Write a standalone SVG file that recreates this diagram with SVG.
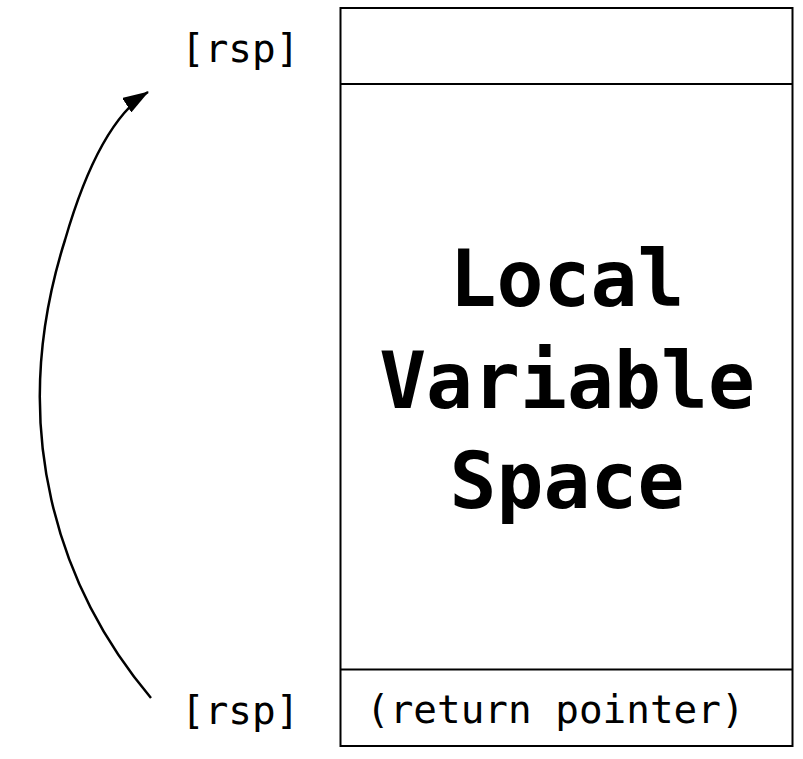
<svg xmlns="http://www.w3.org/2000/svg" width="803" height="759" viewBox="0 0 803 759">
<style>
.lbl{font-family:"DejaVu Sans Mono","Liberation Mono",monospace;font-size:39.3px;fill:#000}
.big{font-family:"DejaVu Sans Mono","Liberation Mono",monospace;font-size:78px;font-weight:bold;fill:#000;text-anchor:middle}
.box{fill:#fff;stroke:#000;stroke-width:2}
.conn{fill:none;stroke:#000;stroke-width:2.5}
</style>
<defs>
<marker id="arrow" markerUnits="userSpaceOnUse" viewBox="0 0 26 17" refX="25" refY="8.5" markerWidth="26" markerHeight="17" orient="auto">
<path d="M0,0 L26,8.5 L0,17 z" fill="#000"/>
</marker>
</defs>
<rect width="803" height="759" fill="#fff"/>
<g id="stack">
<rect class="box" x="340.5" y="8" width="452" height="738"/>
<line x1="340.5" y1="84" x2="792.5" y2="84" stroke="#000" stroke-width="2"/>
<line x1="340.5" y1="669.5" x2="792.5" y2="669.5" stroke="#000" stroke-width="2"/>
</g>
<g id="local-vars">
<text class="big" x="567" y="306">Local</text>
<text class="big" x="567" y="408">Variable</text>
<text class="big" x="567" y="508">Space</text>
</g>
<g id="return-pointer">
<text class="lbl" x="366" y="723">(return pointer)</text>
</g>
<g id="rsp-top">
<text class="lbl" x="181" y="62">[rsp]</text>
</g>
<g id="rsp-bottom">
<text class="lbl" x="181" y="724">[rsp]</text>
</g>
<g id="connectors">
<path class="conn" d="M151,698 C60,590 5,430 65,240 C81.5,183 108,117 148,92" marker-end="url(#arrow)"/>
</g>
</svg>
